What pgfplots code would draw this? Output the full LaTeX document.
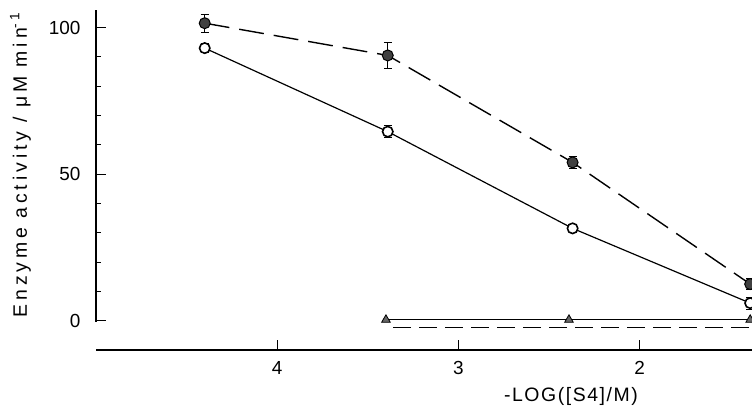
\documentclass[border=0pt]{standalone}
\usepackage{pgfplots}
\pgfplotsset{compat=1.18}
\usepackage{fontspec}
\setmainfont{Liberation Sans}
\newfontfamily\labfont[LetterSpace=8]{Liberation Sans}
\newfontfamily\ylabfont[LetterSpace=20]{Liberation Sans}
\begin{document}
\begin{tikzpicture}
\begin{axis}[
  at={(0,0)}, anchor=south west,
  scale only axis, width=656bp, height=340bp,
  x dir=reverse, xmin=1.38, xmax=5.0, ymin=-10, ymax=106,
  axis x line=bottom, axis y line=left,
  x axis line style={-, line width=2.2pt},
  y axis line style={-, draw=none},
  xtick={2,3,4}, ytick={0,50,100}, minor ytick={10,20,30,40,60,70,80,90},
  tick align=inside,
  major tick length=10bp, minor tick length=5bp,
  every tick/.style={black, line width=1pt},
  /pgf/number format/assume math mode=true,
  tick label style={font=\fontsize{19}{22}\selectfont},
  yticklabel style={xshift=-12bp},
  xticklabel style={yshift=-8bp},
  xlabel={-LOG([S4]/M)},
  xlabel style={at={(axis description cs:0.724,-0.138)}, anchor=center, font=\labfont\fontsize{19.5}{22}\selectfont},
  ylabel={Enzyme activity / μM min\textsuperscript{-1}},
  ylabel style={at={(axis description cs:-0.115,0.544)}, anchor=center, font=\ylabfont\fontsize{19.5}{22}\selectfont},
  clip=false,
  error bars/error bar style={line width=0.9pt},
  error bars/error mark options={rotate=90, mark size=4bp, line width=0.9pt},
]
\addplot[line width=2.2pt, no marks, forget plot] coordinates {(5,-0.3) (5,106)};
% filled circles, dashed
\addplot[black, line width=1.4pt, dash pattern=on 25bp off 10bp,
  mark=*, mark size=5.5bp, mark options={solid, fill=black!75, draw=black, line width=1pt},
  error bars/.cd, y dir=both, y explicit]
  coordinates {(4.40,101.5) +- (0,3) (3.39,90.5) +- (0,4.5) (2.37,54) +- (0,2) (1.39,12.5) +- (0,2)};
% open circles, solid
\addplot[black, line width=1.2pt,
  mark=*, mark size=5.2bp, mark options={solid, fill=white, draw=black, line width=1.6pt},
  error bars/.cd, y dir=both, y explicit]
  coordinates {(4.40,93) +- (0,1.5) (3.39,64.5) +- (0,2) (2.37,31.5) +- (0,1.5) (1.39,6) +- (0,2)};
% triangles, dashed
\addplot[black, line width=1.4pt, dash pattern=on 18bp off 8bp, no marks]
  coordinates {(3.36,-2.3) (2.39,-2.3) (1.39,-2.3)};
% triangles, solid
\addplot[black, line width=1.2pt,
  mark=triangle*, mark size=5bp, mark options={solid, fill=black!60, draw=black, line width=0.8pt}]
  coordinates {(3.40,0.3) (2.39,0.3) (1.39,0.3)};
\end{axis}
\pgfresetboundingbox
\useasboundingbox (-96bp,-57bp) rectangle (656bp,350bp);
\end{tikzpicture}
\end{document}
